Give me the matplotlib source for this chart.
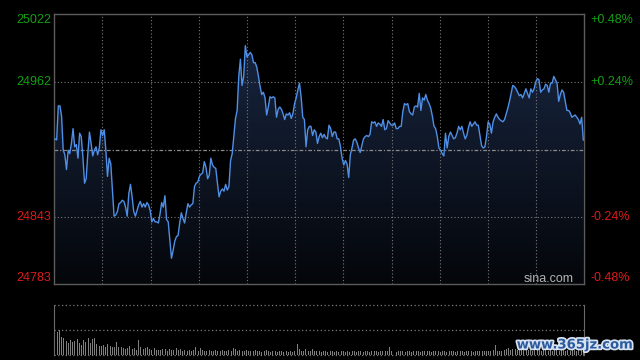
import numpy as np
import matplotlib.pyplot as plt
import matplotlib.transforms as mtrans
import matplotlib.patheffects as pe
from matplotlib.colors import LinearSegmentedColormap

plt.rcParams['font.family'] = ['Liberation Sans', 'DejaVu Sans']

# intraday index values (left to right)
prices = [
    24912, 24911, 24941, 24941, 24932, 24902, 24898, 24885, 24902, 24899, 24908, 24921,
    24905, 24907, 24895, 24917, 24914, 24896, 24873, 24877, 24899, 24918, 24908, 24897,
    24902, 24905, 24898, 24904, 24920, 24915, 24920, 24902, 24879, 24895, 24890, 24867,
    24844, 24845, 24848, 24855, 24856, 24858, 24857, 24852, 24844, 24864, 24872, 24861,
    24848, 24844, 24849, 24854, 24857, 24852, 24855, 24852, 24856,
    24854, 24849, 24839, 24842, 24839, 24839, 24838, 24846, 24856, 24852, 24862, 24841,
    24839, 24823, 24807, 24814, 24822, 24826, 24827, 24838, 24847, 24842, 24838, 24847,
    24855, 24852, 24854, 24855, 24870, 24873, 24874, 24879, 24881, 24882, 24892, 24887,
    24877, 24880, 24895, 24889, 24887, 24886, 24873, 24861, 24866, 24868, 24866, 24872,
    24867, 24870, 24893, 24899, 24914, 24930, 24937, 24967,
    24982, 24959, 24967, 24994, 24984, 24986, 24988, 24986, 24979, 24979, 24975, 24967,
    24958, 24951, 24953, 24948, 24933, 24940, 24949, 24948, 24949, 24948, 24931, 24938,
    24940, 24938, 24934, 24929, 24934, 24933, 24935, 24930, 24934, 24943, 24948, 24955,
    24961, 24949, 24931, 24929, 24905, 24920, 24923, 24923, 24915, 24920, 24918, 24908,
    24914, 24917, 24913, 24916, 24913, 24912,
    24924, 24921, 24914, 24918, 24918, 24912, 24912, 24905, 24895, 24889, 24893, 24890,
    24878, 24898, 24904, 24911, 24912, 24909, 24904, 24900, 24906, 24912, 24914, 24915,
    24914, 24916, 24927, 24926, 24927, 24923, 24926, 24925, 24923, 24929, 24920, 24921,
    24928, 24926, 24924, 24924, 24926, 24921, 24921, 24923, 24923, 24936, 24943, 24942,
    24943, 24936, 24934, 24933, 24940, 24941,
    24940, 24952, 24937, 24948, 24946, 24951, 24946, 24943, 24939, 24932, 24923, 24921,
    24914, 24904, 24902, 24899, 24897, 24917, 24904, 24914, 24918, 24915, 24912, 24913,
    24917, 24923, 24920, 24923, 24917, 24912, 24915, 24922, 24927, 24923, 24925, 24927,
    24924, 24924, 24915, 24906, 24904, 24905, 24914, 24927, 24925, 24917, 24927, 24931,
    24934, 24931, 24929, 24928, 24927, 24929,
    24934, 24939, 24945, 24952, 24959, 24958, 24956, 24953, 24950, 24951, 24948, 24952,
    24956, 24952, 24948, 24956, 24953, 24956, 24962, 24965, 24964, 24953, 24955, 24956,
    24960, 24959, 24953, 24961, 24961, 24967, 24964, 24961, 24945, 24951, 24955, 24953,
    24945, 24937, 24937, 24935, 24931, 24932, 24933, 24931, 24929, 24925, 24931, 24911,
]

# per-minute volume, relative to the tallest bar
volume = [
    100, 47, 50, 37, 35, 29, 24, 31, 26, 29,
    32, 24, 21, 31, 27, 34, 25, 32, 35, 22,
    19, 18, 21, 16, 22, 18, 16, 16, 26, 16,
    16, 14, 13, 14, 18, 13, 14, 11, 31, 16,
    13, 14, 16, 13, 11, 14, 11, 11, 11, 13,
    13, 9, 13, 11, 11, 14, 11, 13, 9, 10,
    9, 10, 8, 10, 16, 9, 14, 10, 8, 9,
    10, 8, 9, 10, 8, 9, 10, 9, 8, 10,
    9, 14, 13, 9, 10, 8, 9, 10, 8, 9,
    8, 10, 8, 9, 7, 8, 10, 8, 7, 9,
    8, 7, 8, 9, 7, 8, 7, 8, 7, 9,
    22, 12, 9, 8, 13, 9, 8, 13, 9, 8,
    8, 7, 9, 8, 7, 8, 9, 7, 8, 7,
    8, 9, 7, 8, 7, 9, 8, 7, 8, 9,
    7, 8, 9, 7, 8, 9, 8, 7, 9, 8,
    8, 9, 17, 8, 9, 7, 8, 9, 8, 7,
    8, 9, 7, 8, 9, 8, 7, 9, 8, 8,
    9, 7, 8, 9, 8, 7, 8, 9, 7, 8,
    9, 8, 7, 8, 9, 8, 7, 8, 9, 8,
    7, 8, 9, 8, 9, 8, 9, 8, 9, 10,
    20, 9, 8, 9, 10, 12, 14, 11, 13, 12,
    11, 12, 10, 11, 12, 10, 11, 9, 10, 11,
    10, 9, 10, 11, 9, 10, 9, 10, 11, 9,
    10, 11, 9, 10, 9, 10, 11, 9, 10, 12, 14,
]

prev_close = 24902.5
left_labels = ['25022', '24962', '24843', '24783']
right_labels = ['+0.48%', '+0.24%', '-0.24%', '-0.48%']
label_colors = ['#12a012', '#12a012', '#dd1a1a', '#dd1a1a']
label_ypos = [0.977, 0.7484, 0.2479, 0.0226]   # axes fraction

ymin, ymax = 24784.1, 25021.8
xmin, xmax = -0.32, 240.45

fig = plt.figure(figsize=(6.4, 3.6), dpi=100, facecolor='black')
ax = fig.add_axes([54.3 / 640, 1 - 284.3 / 360, 530 / 640, 270.3 / 360])
axv = fig.add_axes([54.3 / 640, 1 - 355.3 / 360, 530 / 640, 50.6 / 360])

# ---- price panel
t = np.linspace(0, 240, len(prices))
ax.set_facecolor('black')
ax.set_xlim(xmin, xmax)
ax.set_ylim(ymin, ymax)

# gradient fill under the line
poly = ax.fill_between(t, prices, ymin, color='none', lw=0)
cmap = LinearSegmentedColormap.from_list('fade', ['#04060a', '#18253f'])
grad = np.linspace(1, 0, 256).reshape(-1, 1)
im = ax.imshow(grad, extent=[xmin, xmax, ymin, 24995], aspect='auto',
               cmap=cmap, origin='upper', zorder=1)
im.set_clip_path(poly.get_paths()[0], transform=ax.transData)

grid_kw = dict(color='#7a7a7a', lw=0.8, ls=(0, (1, 2)), zorder=2)
for k in range(1, 11):
    ax.axvline(xmin + k * (xmax - xmin) / 11, **grid_kw)
ax.axhline(24962, **grid_kw)
ax.axhline(24843, **grid_kw)
ax.axhline(prev_close, color='#8a8a8a', lw=0.9, ls=(0, (3, 1.5, 1, 1.5)), zorder=2)

ax.plot(t, prices, color='#4f8fe6', lw=1.0, zorder=3)

ax.set_xticks([])
ax.set_yticks([])
for s in ax.spines.values():
    s.set_color('#5c5c5c')
    s.set_linewidth(1.0)

for lab, rlab, col, yp in zip(left_labels, right_labels, label_colors, label_ypos):
    ax.text(-0.0062, yp, lab, transform=ax.transAxes, ha='right', va='center',
            color=col, fontsize=9)
    ax.text(1.0108, yp, rlab, transform=ax.transAxes, ha='left', va='center',
            color=col, fontsize=9)

ax.text(0.9796, 0.0185, 'sina.com', transform=ax.transAxes, ha='right',
        va='center', color='#b4b4b4', fontsize=9)

# ---- volume panel
axv.set_facecolor('black')
axv.bar(np.arange(len(volume)), volume, width=0.45, color='#808080', lw=0)
axv.set_xlim(xmin, xmax)
axv.set_ylim(0, 100)
axv.set_xticks([])
axv.set_yticks([])
for side in ['top', 'bottom']:
    axv.spines[side].set_visible(False)
for side in ['left', 'right']:
    axv.spines[side].set_color('#6a6a6a')
for yv in [100, 50, 0]:
    axv.axhline(yv, color='#7a7a7a', lw=0.9, ls=(0, (1, 2)), clip_on=False)

fig.text(516.7 / 640, 1 - 345 / 360, 'www.365jz.com', ha='left', va='center',
         family='DejaVu Sans', fontweight='bold', fontsize=9.5, color='#2b5b9e',
         path_effects=[pe.withStroke(linewidth=2.5, foreground='#d8e2f0')])

fig.savefig('out.png', dpi=100, facecolor='black')
